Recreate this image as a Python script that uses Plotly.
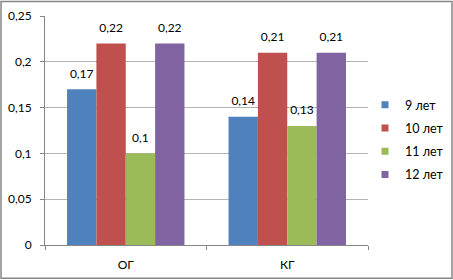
import plotly.graph_objects as go

categories = ["ОГ", "КГ"]
series_names = ["9 лет", "10 лет", "11 лет", "12 лет"]
values_9 = [0.17, 0.14]
values_10 = [0.22, 0.21]
values_11 = [0.10, 0.13]
values_12 = [0.22, 0.21]
colors = ["#4F81BD", "#C0504D", "#9BBB59", "#8064A2"]
y_ticks = [0, 0.05, 0.1, 0.15, 0.2, 0.25]
y_tick_labels = ["0", "0,05", "0,1", "0,15", "0,2", "0,25"]

all_values = [values_9, values_10, values_11, values_12]

def fmt(v):
    s = f"{v:.2f}".rstrip("0").rstrip(".")
    return s.replace(".", ",")

FONT = "Lato, Liberation Sans, sans-serif"
fig = go.Figure()
for i, (name, vals, col) in enumerate(zip(series_names, all_values, colors)):
    fig.add_trace(go.Bar(
        x=categories, y=vals, name=name, marker=dict(color=col, line=dict(width=0)),
        offsetgroup=f"g{i}",
        showlegend=False, legendgroup=f"g{i}",
    ))
for i, (name, vals) in enumerate(zip(series_names, all_values)):
    fig.add_trace(go.Scatter(
        x=categories, y=vals, mode="markers+text", offsetgroup=f"g{i}",
        marker=dict(size=12, color="rgba(0,0,0,0)"),
        text=[fmt(v) for v in vals], textposition="top center", cliponaxis=False,
        textfont=dict(size=12, color="#000000", family=FONT),
        showlegend=False, hoverinfo="skip",
    ))
for i, (name, col) in enumerate(zip(series_names, colors)):
    fig.add_trace(go.Scatter(
        x=[None], y=[None], mode="markers", name=name, legendgroup=f"g{i}",
        marker=dict(symbol="square", size=7, color=col), showlegend=True,
    ))

W, H = 453, 280
ml, mr, mt, mb = 45, 85, 15.5, 34.5
pw = W - ml - mr
ph = H - mt - mb
fig.update_layout(
    width=W, height=H, barmode="group", bargap=0.273, bargroupgap=0,
    scattermode="group", scattergap=0.273,
    margin=dict(l=ml, r=mr, t=mt, b=mb, pad=0, autoexpand=False),
    paper_bgcolor="white", plot_bgcolor="white",
    font=dict(family=FONT, size=12, color="#000000"),
    showlegend=True,
    legend=dict(x=(365 - ml) / pw, y=(H - mb - 90) / ph, xanchor="left", yanchor="top",
                font=dict(size=12.5, family=FONT), itemwidth=30, tracegroupgap=4,
                bgcolor="rgba(0,0,0,0)"),
)
fig.update_yaxes(range=[0, 0.25], tickvals=y_ticks, ticktext=y_tick_labels,
                 showgrid=True, gridcolor="#B3B3B3", gridwidth=1,
                 showline=True, linecolor="#868686", linewidth=1,
                 ticks="outside", ticklen=4, tickcolor="#868686", zeroline=False,
                 ticklabelstandoff=6,
                 tickfont=dict(size=12, family=FONT))
fig.update_xaxes(showline=True, linecolor="#868686", linewidth=1,
                 ticks="outside", ticklen=4, tickcolor="#868686", tickson="boundaries",
                 ticklabelstandoff=9,
                 tickfont=dict(size=12, family=FONT))
# outer chart border
fig.add_shape(type="rect", xref="paper", yref="paper",
              x0=(1 - ml) / pw, x1=(W - 1 - ml) / pw,
              y0=(1 - mb) / ph, y1=(H - mb - 1) / ph,
              line=dict(color="#868686", width=1.5), fillcolor="rgba(0,0,0,0)", layer="below")
fig.write_html("out.html", config={"displayModeBar": False},
               post_script="document.body.style.margin='0';document.body.style.overflow='hidden';")
